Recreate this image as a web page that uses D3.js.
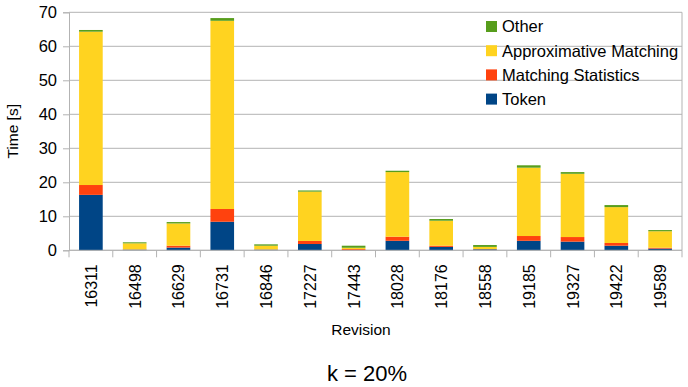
<!DOCTYPE html>
<html>
<head>
<meta charset="utf-8">
<script src="https://cdn.jsdelivr.net/npm/d3@7"></script>
<style>
  body { margin: 0; background: #fff; }
  text { font-family: "Liberation Sans", Arial, sans-serif; fill: #000; }
</style>
</head>
<body>
<div id="chart"></div>
<script>
// data
var revisions = ["16311", "16498", "16629", "16731", "16846", "17227", "17443",
                 "18028", "18176", "18558", "19185", "19327", "19422", "19589"];
var token      = [16.3, 0.2, 0.8, 8.4, 0.2, 1.85, 0.05, 2.8, 1.0, 0.3, 2.8, 2.55, 1.35, 0.5];
var matchStats = [2.9, 0.05, 0.55, 3.75, 0.05, 0.9, 0.3, 1.2, 0.35, 0.05, 1.4, 1.35, 0.8, 0.25];
var approx     = [45.1, 1.8, 6.55, 55.35, 1.1, 14.5, 0.4, 19.0, 7.35, 0.65, 20.1, 18.6, 10.55, 4.85];
var other      = [0.5, 0.3, 0.4, 0.8, 0.4, 0.35, 0.6, 0.4, 0.5, 0.55, 0.7, 0.5, 0.6, 0.35];
var seriesNames = ["Token", "Matching Statistics", "Approximative Matching", "Other"];
var yTicks = [0, 10, 20, 30, 40, 50, 60, 70];

var colors = ["#004586", "#ff420e", "#ffd320", "#579d1c"];

//setting svg dimension
var svgWidth = 688;
var svgHeight = 387;
var margin = { top: 12.3, right: 6, bottom: 136.7, left: 69 };
var chartWidth = svgWidth - margin.left - margin.right;
var chartHeight = svgHeight - margin.top - margin.bottom;

var svg = d3.select("#chart")
  .append("svg")
  .attr("width", svgWidth)
  .attr("height", svgHeight);

var chartGroup = svg.append("g")
  .attr("transform", `translate(${margin.left}, ${margin.top})`);

//building rows for the stack
var rows = revisions.map((r, i) => ({
  rev: r,
  "Token": token[i],
  "Matching Statistics": matchStats[i],
  "Approximative Matching": approx[i],
  "Other": other[i]
}));
var stacked = d3.stack().keys(seriesNames)(rows);

//scales
var xScale = d3.scaleBand()
  .domain(revisions)
  .range([0, chartWidth])
  .padding(0);
var yScale = d3.scaleLinear()
  .domain([0, 70])
  .range([chartHeight, 0]);

var barWidth = xScale.bandwidth() * 0.54;

//gridlines
chartGroup.append("g")
  .selectAll("line")
  .data(yTicks)
  .enter()
  .append("line")
  .attr("x1", 0)
  .attr("x2", chartWidth)
  .attr("y1", d => yScale(d))
  .attr("y2", d => yScale(d))
  .attr("stroke", "#b3b3b3")
  .attr("stroke-width", 1);

// right border
chartGroup.append("line")
  .attr("x1", chartWidth).attr("x2", chartWidth)
  .attr("y1", 0).attr("y2", chartHeight)
  .attr("stroke", "#b3b3b3");

//bars
var layers = chartGroup.selectAll(".layer")
  .data(stacked)
  .enter()
  .append("g")
  .attr("fill", (d, i) => colors[i]);

layers.selectAll("rect")
  .data(d => d)
  .enter()
  .append("rect")
  .attr("x", d => xScale(d.data.rev) + (xScale.bandwidth() - barWidth) / 2)
  .attr("y", d => yScale(d[1]))
  .attr("width", barWidth)
  .attr("height", d => Math.max(0, yScale(d[0]) - yScale(d[1])));

//y axis
var leftAxis = d3.axisLeft(yScale)
  .tickValues(yTicks)
  .tickSize(6)
  .tickPadding(6);
var yAxis = chartGroup.append("g").call(leftAxis);
yAxis.select(".domain").attr("stroke", "#b3b3b3");
yAxis.selectAll(".tick line").attr("stroke", "#b3b3b3");
yAxis.selectAll(".tick text")
  .style("font-family", "Liberation Sans, Arial, sans-serif")
  .style("font-size", "16.5px")
  .attr("fill", "#000");

//x axis (ticks at category boundaries)
var xAxis = chartGroup.append("g")
  .attr("transform", `translate(0, ${chartHeight})`);
xAxis.append("line")
  .attr("x1", 0).attr("x2", chartWidth)
  .attr("y1", 0).attr("y2", 0)
  .attr("stroke", "#b3b3b3");
xAxis.selectAll(".sep")
  .data(revisions.concat(["end"]))
  .enter()
  .append("line")
  .attr("x1", (d, i) => i * xScale.step())
  .attr("x2", (d, i) => i * xScale.step())
  .attr("y1", 0)
  .attr("y2", 7)
  .attr("stroke", "#b3b3b3");
xAxis.selectAll(".xlabel")
  .data(revisions)
  .enter()
  .append("text")
  .attr("transform", d => `translate(${xScale(d) + xScale.bandwidth() / 2 + 6}, 14) rotate(-90)`)
  .attr("text-anchor", "end")
  .style("font-size", "16px")
  .text(d => d);

//axis titles
svg.append("text")
  .attr("transform", `translate(18, ${margin.top + chartHeight / 2}) rotate(-90)`)
  .attr("text-anchor", "middle")
  .style("font-size", "15.5px")
  .text("Time [s]");

svg.append("text")
  .attr("x", 361)
  .attr("y", 335)
  .attr("text-anchor", "middle")
  .style("font-size", "15.5px")
  .text("Revision");

svg.append("text")
  .attr("x", 367)
  .attr("y", 381)
  .attr("text-anchor", "middle")
  .style("font-size", "22px")
  .text("k = 20%");

//legend (Other on top)
var legendItems = seriesNames.slice().reverse();
var legend = svg.append("g")
  .selectAll("g")
  .data(legendItems)
  .enter()
  .append("g")
  .attr("transform", (d, i) => `translate(486, ${26.5 + i * 24.2})`);
legend.append("rect")
  .attr("x", 0)
  .attr("y", -5.5)
  .attr("width", 11)
  .attr("height", 11)
  .attr("fill", d => colors[seriesNames.indexOf(d)]);
legend.append("text")
  .attr("x", 16)
  .attr("y", 0)
  .attr("dy", "0.36em")
  .style("font-size", "16.5px")
  .text(d => d);
</script>
</body>
</html>
